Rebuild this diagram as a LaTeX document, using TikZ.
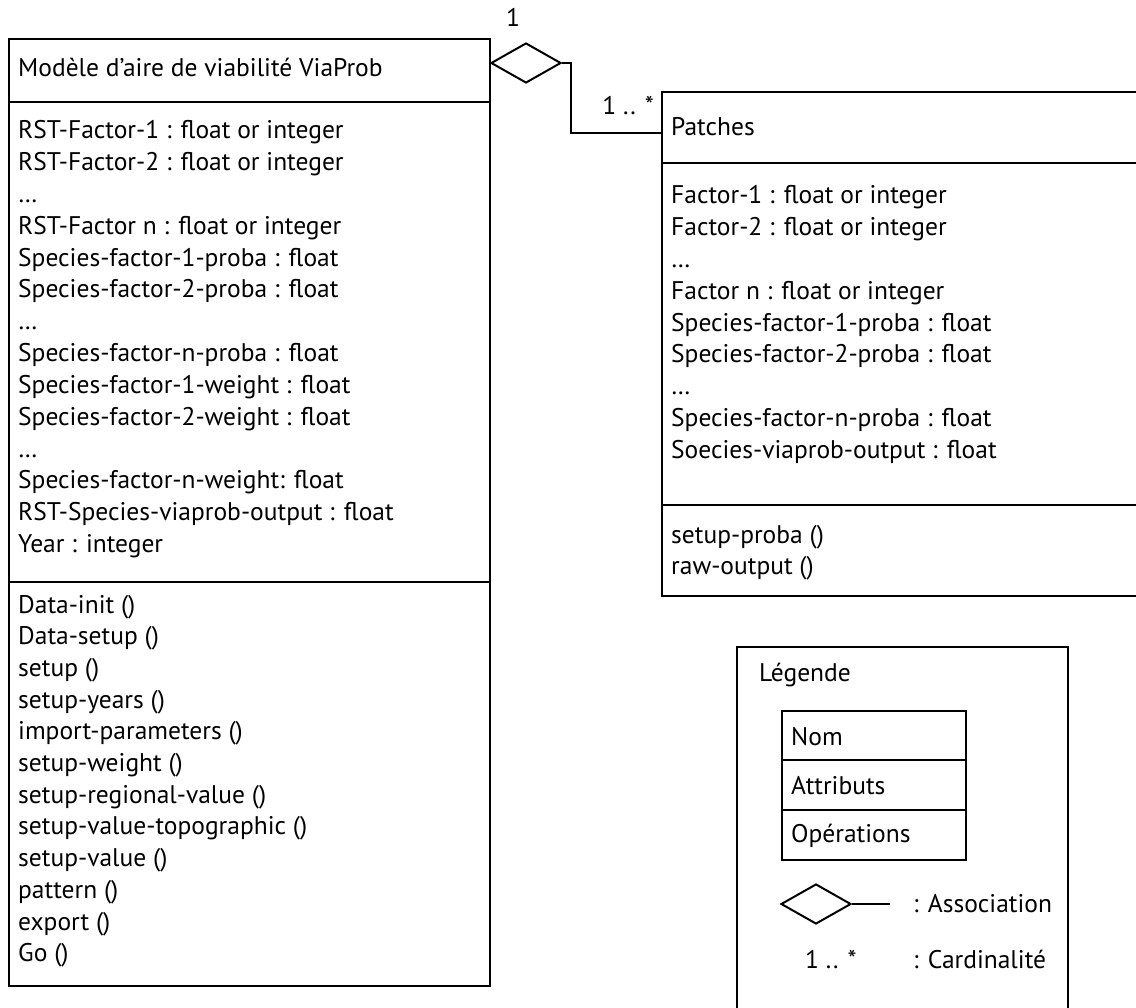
\documentclass[tikz,border=0pt]{standalone}
\usepackage{fontspec}
\setmainfont{PT Sans}
\usetikzlibrary{shapes.geometric}
\tikzset{
  box/.style={draw, rectangle, line width=2.3pt, inner sep=0pt, anchor=north west},
  sepline/.style={line width=2.3pt},
  link/.style={line width=2pt},
  txt/.style={anchor=base west, inner sep=0pt, font=\fontsize{25.5}{30}\selectfont},
  assoc/.style={draw, diamond, line width=2pt, inner sep=0pt, minimum width=70pt, minimum height=40pt},
}
\begin{document}
\begin{tikzpicture}[x=1pt,y=-1pt]
\useasboundingbox (0,0) rectangle (1136,1008);
\clip (0,0) rectangle (1136,1008);
% main class
\node[box, minimum width=481pt, minimum height=947pt] (L) at (8,38) {};
\draw[sepline] (L.west |- 0,102) -- (L.east |- 0,102);
\draw[sepline] (L.west |- 0,582) -- (L.east |- 0,582);
\node[txt] (ltitle) at (18,77) {Modèle d’aire de viabilité ViaProb};
\foreach \t [count=\i from 0] in {
  {RST-Factor-1 : float or integer},
  {RST-Factor-2 : float or integer},
  {…},
  {RST-Factor n : float or integer},
  {Species-factor-1-proba : float},
  {Species-factor-2-proba : float},
  {…},
  {Species-factor-n-proba : float},
  {Species-factor-1-weight : float},
  {Species-factor-2-weight : float},
  {…},
  {Species-factor-n-weight: float},
  {RST-Species-viaprob-output : float},
  {Year : integer}}
  \node[txt] (la\i) at (18,{139+31.8*\i}) {\t};
\foreach \t [count=\i from 0] in {
  {Data-init ()},
  {Data-setup ()},
  {setup ()},
  {setup-years ()},
  {import-parameters ()},
  {setup-weight ()},
  {setup-regional-value ()},
  {setup-value-topographic ()},
  {setup-value ()},
  {pattern ()},
  {export ()},
  {Go ()}}
  \node[txt] (lo\i) at (18,{613+31.7*\i}) {\t};
% patches class
\node[box, minimum width=489pt, minimum height=504pt] (P) at (661,91) {};
\draw[sepline] (P.west |- 0,163) -- (P.east |- 0,163);
\draw[sepline] (P.west |- 0,505) -- (P.east |- 0,505);
\node[txt] (ptitle) at (671,136) {Patches};
\foreach \t [count=\i from 0] in {
  {Factor-1 : float or integer},
  {Factor-2 : float or integer},
  {…},
  {Factor n : float or integer},
  {Species-factor-1-proba : float},
  {Species-factor-2-proba : float},
  {…},
  {Species-factor-n-proba : float},
  {Soecies-viaprob-output : float}}
  \node[txt] (pa\i) at (671,{204+31.8*\i}) {\t};
\node[txt] (po0) at (671,543) {setup-proba ()};
\node[txt] (po1) at (671,574) {raw-output ()};
% association
\node[assoc] (D) at (526,63) {};
\draw[link] (D.east) -- ++(9,0) |- (P.west |- 0,133);
\node[txt, anchor=base] (one) at (513,27) {1};
\node[txt, anchor=base east] (card) at (654,115) {1 .. *};
% legend
\node[box, minimum width=331pt, minimum height=400pt] (G) at (736,646) {};
\node[txt] (gtitle) at (759,681) {Légende};
\node[box, minimum width=184pt, minimum height=149pt] (I) at (781,710) {};
\draw[sepline] (I.west |- 0,760) -- (I.east |- 0,760);
\draw[sepline] (I.west |- 0,810) -- (I.east |- 0,810);
\node[txt] (gnom) at (791,745) {Nom};
\node[txt] (gatt) at (791,794) {Attributs};
\node[txt] (gop) at (791,842) {Opérations};
\node[assoc] (GD) at (816,904) {};
\coordinate (GE) at (890,904);
\draw[link] (GD.east) -- (GE);
\node[txt] (gassoc) at (913,912) {: Association};
\node[txt] (gcard1) at (805,968) {1 .. *};
\node[txt] (gcard2) at (913,968) {: Cardinalité};
\end{tikzpicture}
\end{document}
